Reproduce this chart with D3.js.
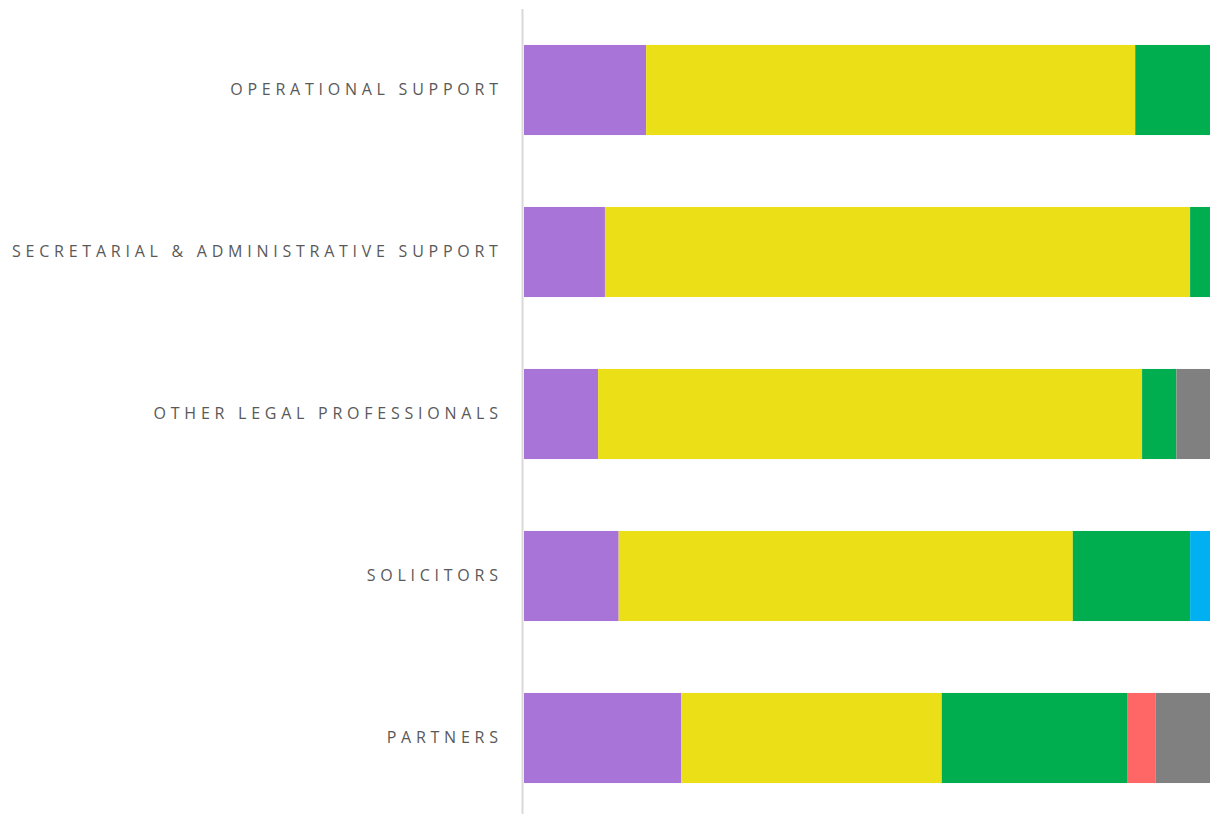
<!DOCTYPE html>
<html>
<head>
<meta charset="utf-8">
<script src="https://cdn.jsdelivr.net/npm/d3@7"></script>
<style>
  body { margin: 0; background: #fff; }
  svg { display: block; }
</style>
</head>
<body>
<script>
// rows, top to bottom
const categories = [
  'OPERATIONAL SUPPORT',
  'SECRETARIAL & ADMINISTRATIVE SUPPORT',
  'OTHER LEGAL PROFESSIONALS',
  'SOLICITORS',
  'PARTNERS'
]

const seriesNames = ['purple', 'yellow', 'green', 'blue', 'red', 'grey']
const seriesColors = ['#a974d8', '#ebe018', '#00ae4f', '#00b0f0', '#ff6666', '#808080']

// percentage shares per row, one array per series
const purpleValues = [17.8, 11.8, 10.8, 13.8, 22.9]
const yellowValues = [71.3, 85.3, 79.3, 66.2, 38.0]
const greenValues = [10.9, 2.9, 5.0, 17.1, 27.1]
const blueValues = [0, 0, 0, 2.9, 0]
const redValues = [0, 0, 0, 0, 4.1]
const greyValues = [0, 0, 4.9, 0, 7.9]

const width = 1210
const height = 814

const rows = categories.map((c, i) => ({
  category: c,
  purple: purpleValues[i],
  yellow: yellowValues[i],
  green: greenValues[i],
  blue: blueValues[i],
  red: redValues[i],
  grey: greyValues[i]
}))

const stacked = d3.stack().keys(seriesNames)(rows)

const x = d3.scaleLinear().domain([0, 100]).range([524, 1210])
const y = d3.scaleBand()
  .domain(categories)
  .range([9, 819])
  .paddingInner(0.444)
  .paddingOuter(0.222)

const color = d3.scaleOrdinal().domain(seriesNames).range(seriesColors)

const svg = d3.select('body').append('svg')
  .attr('width', width)
  .attr('height', height)

svg.append('g')
  .selectAll('g')
  .data(stacked)
  .join('g')
  .attr('fill', d => color(d.key))
  .selectAll('rect')
  .data(d => d.filter(p => p[1] - p[0] > 0))
  .join('rect')
  .attr('x', d => x(d[0]))
  .attr('y', d => y(d.data.category))
  .attr('width', d => x(d[1]) - x(d[0]))
  .attr('height', y.bandwidth())

// vertical axis line
svg.append('line')
  .attr('x1', 522.5).attr('x2', 522.5)
  .attr('y1', 9).attr('y2', height)
  .attr('stroke', '#d9d9d9')
  .attr('stroke-width', 2)

svg.append('g')
  .selectAll('text')
  .data(categories)
  .join('text')
  .attr('x', 502.7)
  .attr('y', d => y(d) + y.bandwidth() / 2 - 1)
  .attr('dy', '0.35em')
  .attr('text-anchor', 'end')
  .style('font-family', '"Open Sans", sans-serif')
  .style('font-size', '16px')
  .style('letter-spacing', '4.75px')
  .style('fill', '#595959')
  .text(d => d)
</script>
</body>
</html>
